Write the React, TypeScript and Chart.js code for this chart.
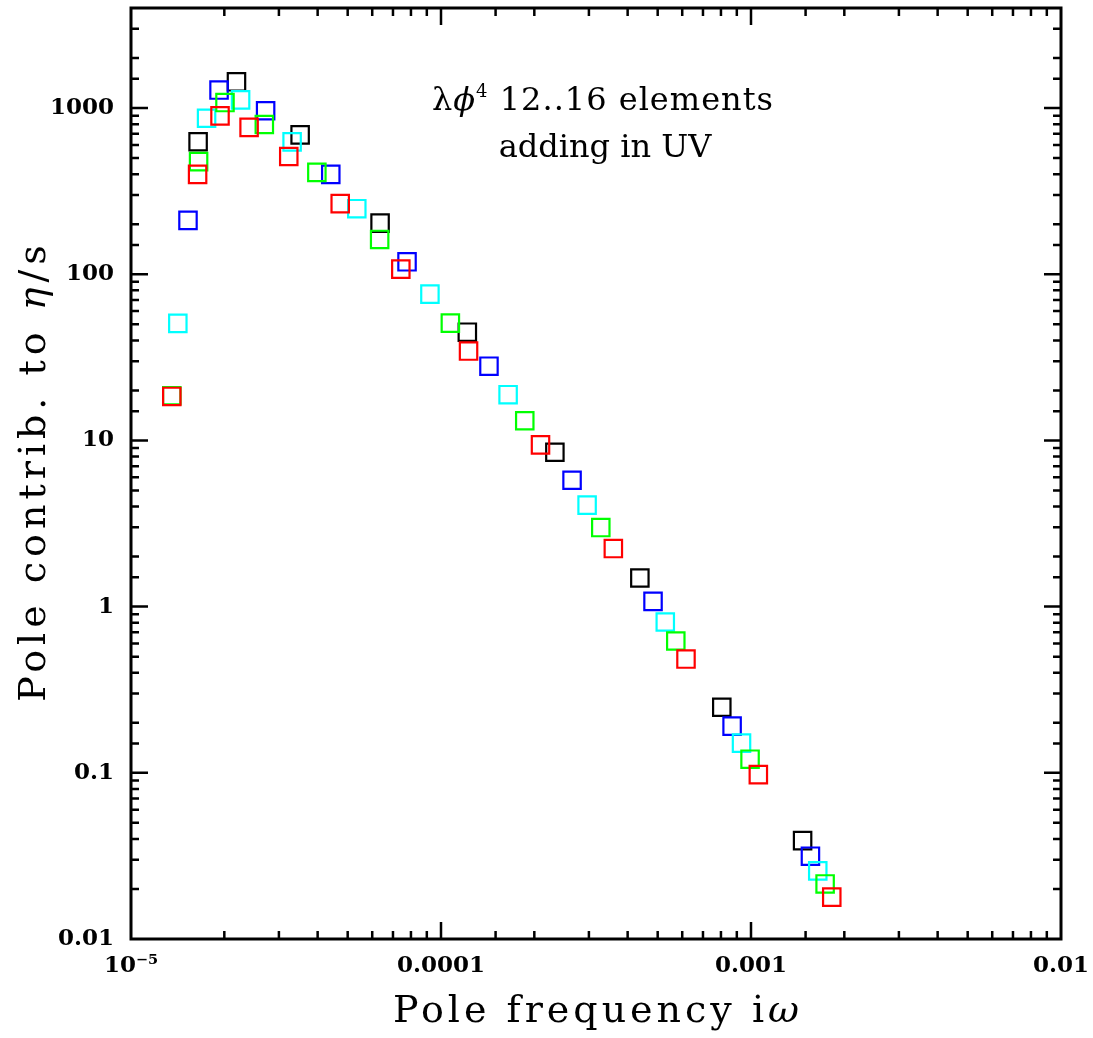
import React, { useEffect, useRef } from 'react';
import { Chart, registerables } from 'chart.js';

Chart.register(...registerables);

// ---- data (pole frequency iω, pole contribution to η/s) ----
const blackX = [1.646e-5, 2.189e-5, 3.512e-5, 6.36e-5, 1.216e-4, 2.33e-4, 4.38e-4, 8.05e-4, 1.467e-3];
const blackY = [627, 1439, 690, 203, 44.8, 8.49, 1.487, 0.248, 0.0391];

const blueX = [1.527e-5, 1.923e-5, 2.718e-5, 4.41e-5, 7.77e-5, 1.428e-4, 2.647e-4, 4.83e-4, 8.69e-4, 1.555e-3];
const blueY = [211, 1283, 963, 399, 118.8, 27.97, 5.76, 1.076, 0.191, 0.0315];

const cyanX = [1.416e-5, 1.753e-5, 2.257e-5, 3.309e-5, 5.35e-5, 9.21e-5, 1.646e-4, 2.96e-4, 5.29e-4, 9.32e-4, 1.642e-3];
const cyanY = [50.6, 868, 1120, 626, 248, 75.9, 18.84, 4.08, 0.808, 0.1508, 0.0257];

const greenX = [1.354e-5, 1.652e-5, 2.01e-5, 2.692e-5, 3.977e-5, 6.34e-5, 1.072e-4, 1.863e-4, 3.277e-4, 5.72e-4, 9.93e-4, 1.734e-3];
const greenY = [18.58, 476, 1079, 796, 410, 162, 50.8, 13.14, 2.99, 0.621, 0.1208, 0.02144];

const redX = [1.354e-5, 1.64e-5, 1.937e-5, 2.404e-5, 3.228e-5, 4.73e-5, 7.42e-5, 1.227e-4, 2.094e-4, 3.597e-4, 6.17e-4, 1.056e-3, 1.822e-3];
const redY = [18.4, 399, 897, 765, 511, 266, 107.3, 34.5, 9.4, 2.235, 0.4836, 0.0975, 0.01786];

const seriesColors = ['#000000', '#0000ff', '#00ffff', '#00ff00', '#ff0000'];

// ---- axes ----
const xMin = 1e-5;
const xMax = 0.01;
const yMin = 0.01;
const yMax = 4000;
const xTickValues = [1e-5, 1e-4, 1e-3, 1e-2];
const xTickLabels = ['10⁻⁵', '0.0001', '0.001', '0.01'];
const yTickValues = [0.01, 0.1, 1, 10, 100, 1000];
const yTickLabels = ['0.01', '0.1', '1', '10', '100', '1000'];

// titles as [text, italic] pieces
const xTitleParts: [string, boolean][] = [['Pole frequency i', false], ['ω', true]];
const yTitleParts: [string, boolean][] = [['Pole contrib. to ', false], ['η', true], ['/s', false]];
const noteLine2 = 'adding in UV';

const FONT = "'DejaVu Serif', serif";

function isDecade(v: number) {
  const l = Math.log10(v);
  return Math.abs(l - Math.round(l)) < 1e-6;
}
function labelFor(v: number, vals: number[], labels: string[]) {
  for (let i = 0; i < vals.length; i++) {
    if (Math.abs(Math.log10(v) - Math.log10(vals[i])) < 1e-6) return labels[i];
  }
  return '';
}
function pts(xs: number[], ys: number[]) {
  return xs.map((x, i) => ({ x, y: ys[i] }));
}

function drawParts(ctx: CanvasRenderingContext2D, parts: [string, boolean][], size: number, spacing: number, cx: number, baseY: number) {
  (ctx as any).letterSpacing = `${spacing}px`;
  const widths = parts.map(([t, it]) => {
    ctx.font = `${it ? 'italic ' : ''}${size}px ${FONT}`;
    return ctx.measureText(t).width;
  });
  const total = widths.reduce((s, w) => s + w, 0) - spacing;
  let x = cx - total / 2;
  ctx.textAlign = 'left';
  parts.forEach(([t, it], i) => {
    ctx.font = `${it ? 'italic ' : ''}${size}px ${FONT}`;
    ctx.fillText(t, x, baseY);
    x += widths[i];
  });
}

function zeroPad(s: any) {
  s.paddingTop = 0;
  s.paddingBottom = 0;
  s.paddingLeft = 0;
  s.paddingRight = 0;
}

const decorPlugin = {
  id: 'decor',
  afterDraw(chart: any) {
    const ctx = chart.ctx as CanvasRenderingContext2D;
    const a = chart.chartArea;
    const xs = chart.scales.x;
    const ys = chart.scales.y;
    ctx.save();
    ctx.strokeStyle = '#000';
    ctx.lineWidth = 2.5;
    ctx.beginPath();
    for (const t of xs.ticks) {
      const px = xs.getPixelForValue(t.value);
      if (px <= a.left + 1 || px >= a.right - 1) continue;
      const len = isDecade(t.value) ? 17 : 8;
      ctx.moveTo(px, a.bottom);
      ctx.lineTo(px, a.bottom - len);
      ctx.moveTo(px, a.top);
      ctx.lineTo(px, a.top + len);
    }
    for (const t of ys.ticks) {
      const py = ys.getPixelForValue(t.value);
      if (py <= a.top + 1 || py >= a.bottom - 1) continue;
      const len = isDecade(t.value) ? 17 : 8;
      ctx.moveTo(a.left, py);
      ctx.lineTo(a.left + len, py);
      ctx.moveTo(a.right, py);
      ctx.lineTo(a.right - len, py);
    }
    ctx.stroke();
    ctx.lineWidth = 3;
    ctx.strokeRect(a.left, a.top, a.right - a.left, a.bottom - a.top);

    // axis titles
    ctx.fillStyle = '#000';
    ctx.textBaseline = 'alphabetic';
    drawParts(ctx, xTitleParts, 38, 4, (a.left + a.right) / 2, 1022);
    ctx.save();
    ctx.translate(45, (a.top + a.bottom) / 2);
    ctx.rotate(-Math.PI / 2);
    drawParts(ctx, yTitleParts, 38, 5, 0, 0);
    ctx.restore();

    // annotation
    (ctx as any).letterSpacing = '1px';
    const cx = 603;
    const base1 = 110;
    const p1 = 'λ';
    const p2 = 'ϕ';
    const p3 = '4';
    const p4 = ' 12..16 elements';
    const fs = 32;
    ctx.font = `${fs}px ${FONT}`;
    const w1 = ctx.measureText(p1).width;
    ctx.font = `italic ${fs}px ${FONT}`;
    const w2 = ctx.measureText(p2).width;
    ctx.font = `18px ${FONT}`;
    const w3 = ctx.measureText(p3).width;
    ctx.font = `${fs}px ${FONT}`;
    const w4 = ctx.measureText(p4).width;
    let x0 = cx - (w1 + w2 + w3 + w4) / 2;
    ctx.textAlign = 'left';
    ctx.font = `${fs}px ${FONT}`;
    ctx.fillText(p1, x0, base1);
    x0 += w1;
    ctx.font = `italic ${fs}px ${FONT}`;
    ctx.fillText(p2, x0, base1);
    x0 += w2;
    ctx.font = `18px ${FONT}`;
    ctx.fillText(p3, x0, base1 - 13);
    x0 += w3;
    ctx.font = `${fs}px ${FONT}`;
    ctx.fillText(p4, x0, base1);
    (ctx as any).letterSpacing = '0px';
    ctx.textAlign = 'center';
    ctx.fillText(noteLine2, 605, 157);
    ctx.restore();
  },
};

export default function App() {
  const ref = useRef<HTMLCanvasElement | null>(null);
  useEffect(() => {
    if (!ref.current) return;
    const mk = (label: string, xs: number[], ys: number[], color: string, order: number) => ({
      label,
      data: pts(xs, ys),
      borderColor: color,
      backgroundColor: 'rgba(0,0,0,0)',
      pointStyle: 'rect',
      pointRadius: 12.3,
      pointBorderWidth: 2.2,
      pointBorderColor: color,
      pointBackgroundColor: 'rgba(0,0,0,0)',
      showLine: false,
      order,
    });
    const chart = new Chart(ref.current, {
      type: 'scatter',
      data: {
        datasets: [
          mk('black', blackX, blackY, seriesColors[0], 4),
          mk('blue', blueX, blueY, seriesColors[1], 3),
          mk('cyan', cyanX, cyanY, seriesColors[2], 2),
          mk('green', greenX, greenY, seriesColors[3], 1),
          mk('red', redX, redY, seriesColors[4], 0),
        ],
      },
      options: {
        animation: false,
        responsive: false,
        devicePixelRatio: 1,
        layout: { autoPadding: false, padding: { top: 8, right: 32, left: 0, bottom: 0 } },
        plugins: { legend: { display: false }, tooltip: { enabled: false } },
        scales: {
          x: {
            type: 'logarithmic',
            min: xMin,
            max: xMax,
            grid: { display: false, drawTicks: false },
            border: { display: false },
            afterFit: (s: any) => { s.height = 99; zeroPad(s); },
            ticks: {
              autoSkip: false,
              maxRotation: 0,
              minRotation: 0,
              padding: 13,
              color: '#000',
              font: { family: FONT, size: 23, weight: 'bold' },
              callback: (v: any) => labelFor(Number(v), xTickValues, xTickLabels),
            },
          },
          y: {
            type: 'logarithmic',
            min: yMin,
            max: yMax,
            grid: { display: false, drawTicks: false },
            border: { display: false },
            afterFit: (s: any) => { s.width = 131; zeroPad(s); },
            ticks: {
              autoSkip: false,
              padding: 17,
              color: '#000',
              font: { family: FONT, size: 23, weight: 'bold' },
              callback: (v: any) => labelFor(Number(v), yTickValues, yTickLabels),
            },
          },
        },
      } as any,
      plugins: [decorPlugin],
    });
    return () => chart.destroy();
  }, []);
  return (
    <div style={{ position: 'fixed', left: 0, top: 0, width: 1093, height: 1038, background: '#fff' }}>
      <canvas ref={ref} width={1093} height={1038} style={{ display: 'block' }} />
    </div>
  );
}
